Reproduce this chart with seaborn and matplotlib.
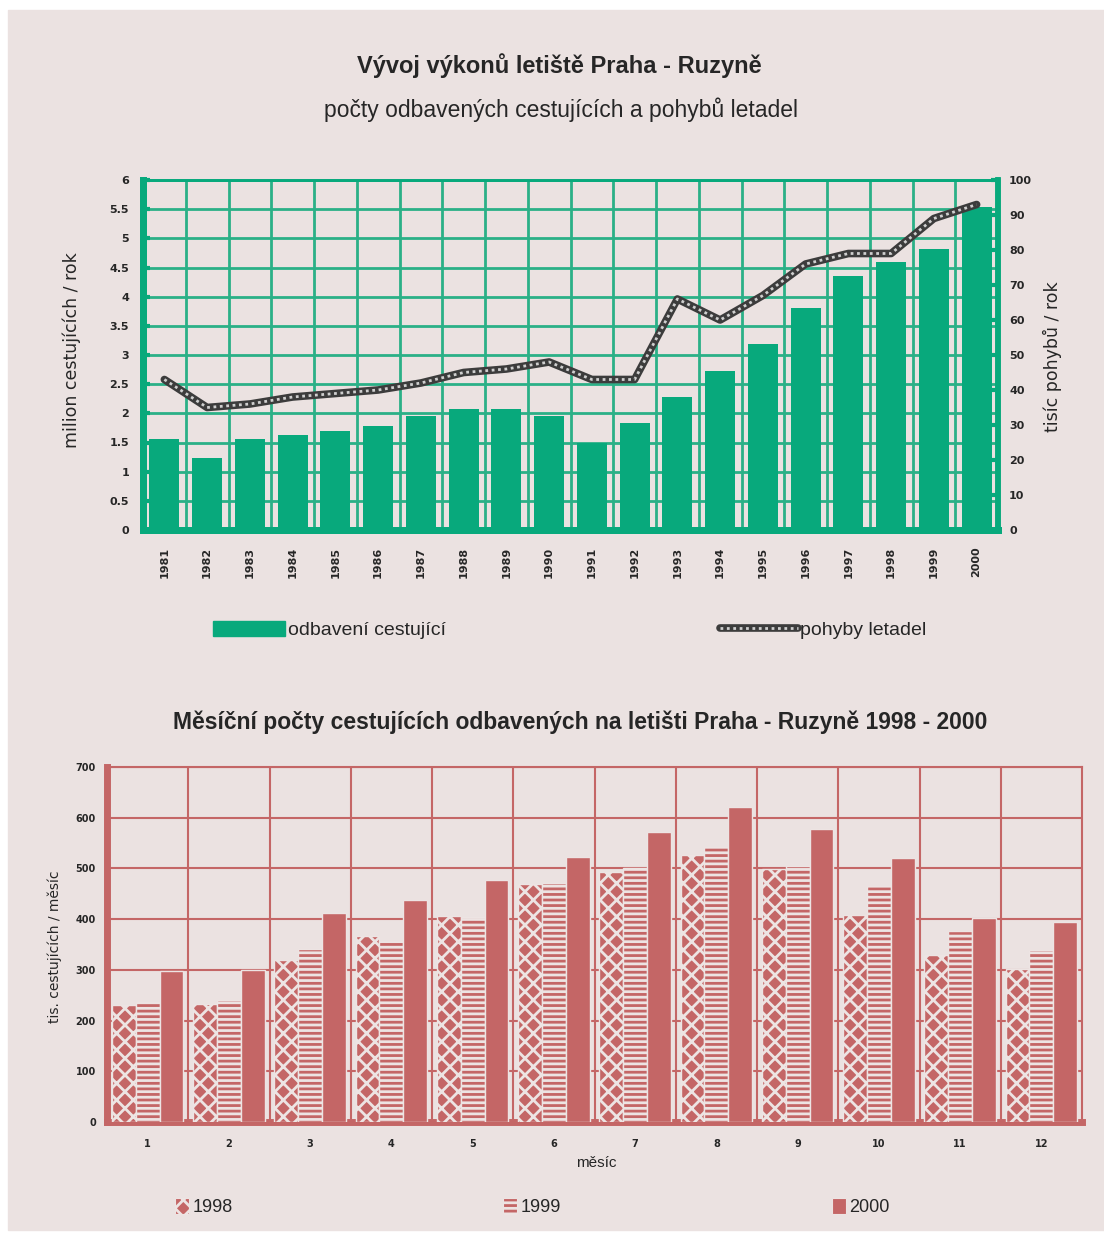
import matplotlib
matplotlib.use("Agg")
import matplotlib.pyplot as plt
import matplotlib.patches as mpatches
from matplotlib.lines import Line2D
from matplotlib.legend_handler import HandlerTuple
import seaborn as sns
import pandas as pd
import numpy as np

# data
years = ["1981", "1982", "1983", "1984", "1985", "1986", "1987", "1988", "1989", "1990",
         "1991", "1992", "1993", "1994", "1995", "1996", "1997", "1998", "1999", "2000"]
passengers = [1.56, 1.23, 1.56, 1.63, 1.70, 1.78, 1.96, 2.08, 2.08, 1.96,
              1.49, 1.84, 2.28, 2.72, 3.19, 3.80, 4.35, 4.59, 4.81, 5.53]
movements = [43, 35, 36, 38, 39, 40, 42, 45, 46, 48,
             43, 43, 66, 60, 67, 76, 79, 79, 89, 93]

months = ["1", "2", "3", "4", "5", "6", "7", "8", "9", "10", "11", "12"]
m1998 = [230, 233, 320, 366, 406, 469, 493, 526, 498, 409, 329, 301]
m1999 = [237, 240, 342, 356, 404, 472, 501, 543, 504, 466, 376, 339]
m2000 = [298, 300, 413, 437, 477, 523, 571, 621, 578, 521, 402, 395]
year_labels = ["1998", "1999", "2000"]

bg = "#ebe2e1"
green = "#08a97c"
green_grid = "#2bb087"
red = "#c46666"
light = "#ede4e3"

sns.set_style("white")
narrow = ["Liberation Sans Narrow", "Liberation Sans", "DejaVu Sans"]
plt.rcParams["font.family"] = ["DejaVu Sans"]
plt.rcParams["hatch.linewidth"] = 2.0

W, H = 1104, 1233
fig = plt.figure(figsize=(W / 100, H / 100), dpi=100)
fig.patch.set_facecolor("white")
fig.patches.append(mpatches.Rectangle((8 / W, 3 / H), 1 - 8 / W, 1 - 13 / H,
                                      transform=fig.transFigure, color=bg, zorder=-10))

def fx(px):
    return px / W

def fy(py):
    return 1 - py / H

# ---------------- top chart ----------------
ax = fig.add_axes([fx(143), fy(530), fx(998) - fx(143), fy(180) - fy(530)])
ax.set_facecolor("none")
ax.set_axisbelow(True)
sns.barplot(x=years, y=passengers, color=green, saturation=1, width=0.7, ax=ax,
            edgecolor=green, linewidth=0, zorder=3)
ax.set_ylim(0, 6)
ax.set_yticks(np.arange(0, 6.01, 0.5))
ax.set_yticklabels([f"{v:g}" for v in np.arange(0, 6.01, 0.5)], fontsize=8, fontweight="bold")
ax.set_xticks(range(len(years)))
ax.set_xticklabels(years, rotation=90, fontsize=8, fontweight="bold")
ax.set_xticks(np.arange(len(years) - 1) + 0.5, minor=True)
ax.grid(axis="y", which="major", color=green_grid, lw=2)
ax.grid(axis="x", which="minor", color=green_grid, lw=2)
ax.grid(axis="x", which="major", visible=False)
ax.tick_params(axis="y", direction="in", length=5, width=3, color=green, pad=10)
ax.tick_params(axis="x", which="both", length=0, pad=12)
ax.set_xlabel("")
ax.set_ylabel("")

line_dark = dict(color="#3c3c3c", lw=5.5)
line_light = dict(color="#cfcfcf", lw=2, linestyle=(0, (1, 1.3)))
ax2 = ax.twinx()
ax2.set_facecolor("none")
xpos = np.arange(len(years))
sns.lineplot(x=xpos, y=movements, ax=ax2, **line_dark)
sns.lineplot(x=xpos, y=movements, ax=ax2, **line_light)
ax2.set_ylim(0, 100)
ax2.set_yticks(range(0, 101, 10))
ax2.set_yticklabels([str(v) for v in range(0, 101, 10)], fontsize=8, fontweight="bold")
ax2.tick_params(axis="y", direction="in", length=5, width=3, color=green, pad=8)
ax2.set_ylabel("")
ax.set_xlim(-0.5, len(years) - 0.5)

for a in (ax, ax2):
    for s in a.spines.values():
        s.set_color(green)
    a.spines["left"].set_linewidth(5)
    a.spines["bottom"].set_linewidth(5)
    a.spines["right"].set_linewidth(4)
    a.spines["top"].set_linewidth(2)

fig.text(fx(559), fy(66), "Vývoj výkonů letiště Praha - Ruzyně", ha="center", va="center",
         fontsize=17, fontweight="bold", family=narrow)
fig.text(fx(561), fy(110), "počty odbavených cestujících a pohybů letadel", ha="center", va="center",
         fontsize=16.5, family=narrow)
fig.text(fx(72), fy(350), "milion cestujících / rok", rotation=90, ha="center", va="center", fontsize=12.5)
fig.text(fx(1052), fy(357), "tisíc pohybů / rok", rotation=90, ha="center", va="center", fontsize=12.5)

h_bar = mpatches.Patch(facecolor=green, edgecolor=green)
h_line = (Line2D([], [], **line_dark), Line2D([], [], **line_light))
fig.legend(handles=[h_bar], labels=["odbavení cestující"], loc="center left",
           bbox_to_anchor=(fx(213), fy(630)), frameon=False, borderpad=0, borderaxespad=0,
           handlelength=3.7, handleheight=0.8, handletextpad=0.15, prop={"family": narrow, "size": 14})
fig.legend(handles=[h_line], labels=["pohyby letadel"], loc="center left",
           bbox_to_anchor=(fx(720), fy(630)), frameon=False, borderpad=0, borderaxespad=0,
           handlelength=4.0, handletextpad=0.1, handler_map={tuple: HandlerTuple(ndivide=1, pad=0)},
           prop={"family": narrow, "size": 14})

# ---------------- bottom chart ----------------
df = pd.DataFrame({
    "month": months * 3,
    "year": [year_labels[0]] * 12 + [year_labels[1]] * 12 + [year_labels[2]] * 12,
    "value": m1998 + m1999 + m2000,
})

bx = fig.add_axes([fx(107), fy(1122), fx(1082) - fx(107), fy(767) - fy(1122)])
bx.set_facecolor("none")
bx.set_axisbelow(True)
sns.barplot(data=df, x="month", y="value", hue="year", palette=[red, red, red], saturation=1,
            width=0.88, ax=bx, legend=False, edgecolor=light, linewidth=1, zorder=3)
hatches = ["xx", "---", ""]
for cont, hatch in zip(bx.containers, hatches):
    for p in cont:
        p.set_hatch(hatch)
bx.set_ylim(0, 700)
bx.set_xlim(-0.5, 11.5)
bx.set_yticks(range(0, 701, 100))
bx.set_yticklabels([str(v) for v in range(0, 701, 100)], fontsize=7, fontweight="bold")
bx.set_xticks(range(12))
bx.set_xticklabels(months, fontsize=7, fontweight="bold")
bx.set_xticks(np.arange(11) + 0.5, minor=True)
bx.grid(axis="y", which="major", color=red, lw=1.5)
bx.grid(axis="x", which="minor", color=red, lw=1.5)
bx.grid(axis="x", which="major", visible=False)
bx.tick_params(axis="y", direction="in", length=4, width=2.5, color=red, pad=8)
bx.tick_params(axis="x", which="both", length=0, pad=12)
bx.set_xlabel("")
bx.set_ylabel("")
for s in bx.spines.values():
    s.set_color(red)
    s.set_linewidth(1.5)
bx.spines["left"].set_linewidth(5)
bx.spines["bottom"].set_linewidth(5)

fig.text(fx(580), fy(722), "Měsíční počty cestujících odbavených na letišti Praha - Ruzyně 1998 - 2000",
         ha="center", va="center", fontsize=16.5, fontweight="bold", family=["Liberation Sans", "DejaVu Sans"])
fig.text(fx(55), fy(947), "tis. cestujících / měsíc", rotation=90, ha="center", va="center", fontsize=10)
fig.text(fx(596), fy(1163), "měsíc", ha="center", va="center", fontsize=11, family=narrow)

leg_x = [175, 503, 832]
for lab, hatch, x0 in zip(year_labels, hatches, leg_x):
    hp = mpatches.Patch(facecolor=red, edgecolor=light, hatch=hatch, lw=0.8)
    fig.legend(handles=[hp], labels=[lab], loc="center left", bbox_to_anchor=(fx(x0), fy(1207)),
               frameon=False, borderpad=0, borderaxespad=0, handlelength=0.8, handleheight=1.0,
               handletextpad=0.15, prop={"family": narrow, "size": 13})

fig.savefig("out.png", dpi=100, facecolor=fig.get_facecolor())
